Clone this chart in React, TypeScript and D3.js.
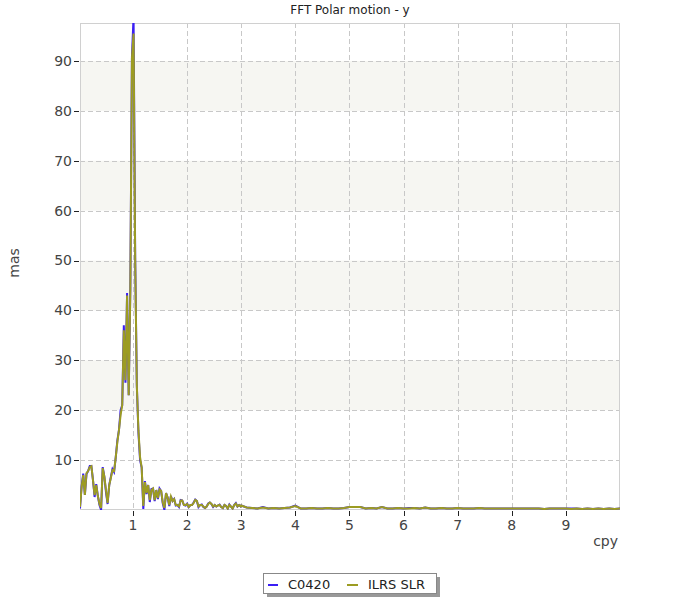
import React from "react";
import * as d3 from "d3";

// Frequency grids (cpy)
const FREQ_LOW: number[] = d3.range(100).map((i) => +(0.02 + 0.03 * i).toFixed(3));
const FREQ_HIGH: number[] = d3.range(71).map((i) => +(3.0 + 0.1 * i).toFixed(2));

// ILRS SLR amplitude (mas)
const ILRS_LOW: number[] = [
  0.6, 4.6, 7.0, 3.0, 7.4, 7.8, 8.6, 8.8, 6.0, 3.0,
  5.0, 2.8, 1.2, 0.4, 8.4, 6.7, 4.0, 1.4, 5.0, 6.4,
  8.0, 7.8, 10.5, 13.6, 16.0, 19.0, 21.0, 36.0, 26.0, 43.0,
  23.0, 44.0, 90.6, 95.5, 50.0, 25.0, 16.0, 10.6, 8.5, 0.8,
  5.6, 3.4, 5.0, 2.0, 4.0, 4.3, 2.0, 4.0, 2.4, 4.1,
  3.8, 1.5, 0.4, 3.4, 2.5, 1.0, 2.7, 1.8, 2.2, 1.0,
  1.0, 0.7, 1.9, 1.9, 1.0, 1.0, 1.2, 0.6, 1.0, 1.0,
  1.4, 2.0, 1.8, 0.7, 1.0, 1.0, 0.7, 0.4, 0.7, 1.2,
  1.5, 1.2, 0.7, 1.0, 0.7, 0.9, 1.0, 0.6, 0.4, 1.0,
  0.8, 0.3, 1.0, 0.7, 0.3, 1.0, 1.3, 0.7, 1.0, 0.7,
];
const ILRS_HIGH: number[] = [
  0.9, 0.5, 0.4, 0.3, 0.5, 0.3, 0.4, 0.3, 0.4, 0.5,
  0.8, 0.3, 0.3, 0.4, 0.3, 0.3, 0.4, 0.3, 0.3, 0.4,
  0.6, 0.6, 0.6, 0.3, 0.4, 0.3, 0.6, 0.3, 0.3, 0.4,
  0.3, 0.3, 0.4, 0.3, 0.5, 0.3, 0.3, 0.4, 0.3, 0.3,
  0.4, 0.3, 0.3, 0.3, 0.4, 0.3, 0.3, 0.3, 0.3, 0.3,
  0.3, 0.3, 0.3, 0.3, 0.3, 0.3, 0.2, 0.3, 0.3, 0.3,
  0.3, 0.2, 0.3, 0.2, 0.3, 0.2, 0.3, 0.2, 0.3, 0.2,
  0.3,
];

// C0420 amplitude (mas)
const C0420_LOW: number[] = [
  0.3, 4.8, 7.3, 3.0, 7.2, 7.8, 8.8, 8.8, 6.0, 2.6,
  5.2, 2.8, 1.0, 0.0, 8.6, 6.7, 3.6, 1.2, 5.0, 6.6,
  8.2, 7.6, 10.5, 13.9, 16.0, 20.0, 21.0, 37.0, 25.5, 43.5,
  23.0, 44.5, 90.8, 99.0, 50.5, 25.0, 15.5, 10.0, 8.5, 0.2,
  5.8, 3.2, 5.0, 1.6, 4.2, 4.3, 1.8, 4.0, 2.2, 4.3,
  3.8, 1.3, 0.0, 3.4, 2.5, 0.8, 2.8, 1.8, 2.2, 0.9,
  1.0, 0.6, 2.0, 1.9, 1.0, 0.9, 1.3, 0.6, 1.0, 1.0,
  1.5, 2.1, 1.8, 0.6, 1.0, 1.1, 0.6, 0.4, 0.7, 1.3,
  1.5, 1.2, 0.6, 1.0, 0.7, 0.9, 1.1, 0.6, 0.4, 1.0,
  0.8, 0.3, 1.1, 0.7, 0.3, 1.0, 1.4, 0.7, 1.0, 0.7,
];
const C0420_HIGH: number[] = [
  0.9, 0.5, 0.4, 0.3, 0.6, 0.3, 0.4, 0.3, 0.4, 0.5,
  0.9, 0.3, 0.3, 0.4, 0.3, 0.3, 0.4, 0.3, 0.3, 0.4,
  0.6, 0.6, 0.6, 0.3, 0.4, 0.3, 0.6, 0.3, 0.3, 0.4,
  0.3, 0.4, 0.4, 0.3, 0.5, 0.3, 0.3, 0.4, 0.3, 0.3,
  0.4, 0.3, 0.3, 0.3, 0.4, 0.3, 0.3, 0.3, 0.3, 0.3,
  0.3, 0.3, 0.3, 0.3, 0.3, 0.3, 0.2, 0.3, 0.3, 0.3,
  0.3, 0.3, 0.3, 0.2, 0.3, 0.2, 0.3, 0.2, 0.3, 0.2,
  0.3,
];

const X_TICKS = [1, 2, 3, 4, 5, 6, 7, 8, 9];
const Y_TICKS = [10, 20, 30, 40, 50, 60, 70, 80, 90];
const BANDS: [number, number][] = [[20, 30], [40, 50], [60, 70], [80, 90]];

const TITLE = "FFT Polar motion - y";
const X_LABEL = "cpy";
const Y_LABEL = "mas";
const SERIES_NAMES = ["C0420", "ILRS SLR"];
const COLORS = ["#3a1ef5", "#9c9c22"];

const FONT = "'DejaVu Sans', Verdana, sans-serif";

export default function App() {
  const W = 700, H = 600;
  const L = 80, R = 620, T = 23, B = 510;
  const x = d3.scaleLinear().domain([0.02, 10]).range([L, R]);
  const y = d3.scaleLinear().domain([0, 97.6]).range([B, T]);

  const freqs = FREQ_LOW.concat(FREQ_HIGH);
  const sC = C0420_LOW.concat(C0420_HIGH);
  const sI = ILRS_LOW.concat(ILRS_HIGH);
  const line = d3
    .line<[number, number]>()
    .x((d) => x(d[0]))
    .y((d) => y(d[1]));
  const pathC = line(freqs.map((f, i) => [f, sC[i]] as [number, number])) || "";
  const pathI = line(freqs.map((f, i) => [f, sI[i]] as [number, number])) || "";

  return (
    <svg
      width={W}
      height={H}
      style={{ position: "absolute", left: 0, top: 0, background: "#fff" }}
      fontFamily={FONT}
    >
      <defs>
        <clipPath id="plotclip">
          <rect x={L} y={T} width={R - L} height={B - T} />
        </clipPath>
      </defs>
      <text x={350} y={14} textAnchor="middle" fontSize={12} fill="#222">
        {TITLE}
      </text>
      <rect x={L} y={T} width={R - L} height={B - T} fill="#fff" />
      {BANDS.map((b, i) => (
        <rect
          key={i}
          x={L}
          y={y(b[1])}
          width={R - L}
          height={y(b[0]) - y(b[1])}
          fill="#f6f6f2"
        />
      ))}
      {Y_TICKS.map((t) => (
        <line
          key={"gy" + t}
          x1={L}
          x2={R}
          y1={Math.round(y(t)) + 0.5}
          y2={Math.round(y(t)) + 0.5}
          stroke="#c8c8c8"
          strokeDasharray="5,3"
        />
      ))}
      {X_TICKS.map((t) => (
        <line
          key={"gx" + t}
          y1={T}
          y2={B}
          x1={Math.round(x(t)) + 0.5}
          x2={Math.round(x(t)) + 0.5}
          stroke="#c8c8c8"
          strokeDasharray="5,3"
        />
      ))}
      <rect
        x={L + 0.5}
        y={T + 0.5}
        width={R - L - 1}
        height={B - T - 1}
        fill="none"
        stroke="#d0d0d0"
      />
      <g clipPath="url(#plotclip)">
        <path d={pathC} fill="none" stroke={COLORS[0]} strokeWidth={2} />
        <path d={pathI} fill="none" stroke={COLORS[1]} strokeWidth={2} />
      </g>
      {Y_TICKS.map((t) => (
        <g key={"ty" + t}>
          <line
            x1={L - 6}
            x2={L - 1}
            y1={Math.round(y(t)) + 0.5}
            y2={Math.round(y(t)) + 0.5}
            stroke="#222"
          />
          <text
            x={L - 8}
            y={y(t)}
            dy="0.35em"
            textAnchor="end"
            fontSize={14}
            fill="#444"
          >
            {t}
          </text>
        </g>
      ))}
      {X_TICKS.map((t) => (
        <g key={"tx" + t}>
          <line
            x1={Math.round(x(t)) + 0.5}
            x2={Math.round(x(t)) + 0.5}
            y1={B + 1}
            y2={B + 6}
            stroke="#222"
          />
          <text x={x(t)} y={B + 20} textAnchor="middle" fontSize={14} fill="#444">
            {t}
          </text>
        </g>
      ))}
      <text x={R - 2} y={546} textAnchor="end" fontSize={14} fill="#444">
        {X_LABEL}
      </text>
      <text
        transform="translate(19,263) rotate(-90)"
        textAnchor="middle"
        fontSize={14}
        fill="#444"
      >
        {Y_LABEL}
      </text>
      {/* legend */}
      <rect x={267} y={577} width={173} height={20} fill="#999" />
      <rect x={263.5} y={573.5} width={173} height={20} fill="#fff" stroke="#888" />
      <line x1={268} x2={278} y1={585} y2={585} stroke={COLORS[0]} strokeWidth={2} />
      <text x={288} y={589} fontSize={13} fill="#222">
        {SERIES_NAMES[0]}
      </text>
      <line x1={347} x2={358} y1={585} y2={585} stroke={COLORS[1]} strokeWidth={2} />
      <text x={368} y={589} fontSize={13} fill="#222">
        {SERIES_NAMES[1]}
      </text>
    </svg>
  );
}
